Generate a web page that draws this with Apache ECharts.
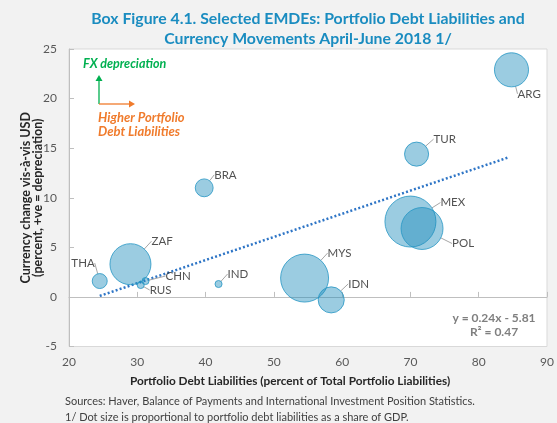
<!DOCTYPE html>
<html>
<head>
<meta charset="utf-8">
<script src="https://cdn.jsdelivr.net/npm/echarts@6/dist/echarts.min.js"></script>
<style>
  html, body { margin: 0; padding: 0; background: #f2f2f2; }
  #chart { width: 557px; height: 423px; }
</style>
</head>
<body>
<div id="chart"></div>
<script>
// data
const countries = ['ARG', 'TUR', 'BRA', 'MEX', 'POL', 'MYS', 'IDN', 'ZAF', 'THA', 'CHN', 'RUS', 'IND']
const debtShare = [84.8, 70.9, 39.8, 70.0, 71.7, 54.5, 58.4, 29.0, 24.5, 31.2, 30.5, 41.9]
const fxChange = [22.9, 14.4, 11.0, 7.6, 6.9, 1.9, -0.3, 3.3, 1.6, 1.6, 1.2, 1.3]
const debtGdp = [11.6, 5.8, 3.2, 26, 17.6, 23, 6.8, 16.8, 2.25, 0.5, 0.5, 0.5]
const trendX = [24.5, 84.5]
const trendY = [0.1, 14.1]
const xTicks = [20, 30, 40, 50, 60, 70, 80, 90]
const yTicks = [-5, 0, 5, 10, 15, 20, 25]

// label offsets from bubble centre (px)
const labelPos = {
  ARG: [6, 24, 'left'],
  TUR: [17, -15, 'left'],
  BRA: [10, -13, 'left'],
  MEX: [30, -19, 'left'],
  POL: [30, 15, 'left'],
  MYS: [23, -25, 'left'],
  IDN: [17, -16, 'left'],
  ZAF: [21, -23, 'left'],
  THA: [-5, -18, 'right'],
  CHN: [20, -5, 'left'],
  RUS: [9, 5, 'left'],
  IND: [9, -10, 'left']
}

const font = 'Lato, "Open Sans", sans-serif'
const chart = echarts.init(document.getElementById('chart'))

const option = {
  backgroundColor: '#f2f2f2',
  textStyle: { fontFamily: font },
  title: {
    text: 'Box Figure 4.1. Selected EMDEs: Portfolio Debt Liabilities and\nCurrency Movements April-June 2018 1/',
    left: 303,
    top: 4,
    textAlign: 'center',
    textStyle: { color: '#1a8cc0', fontSize: 15.8, fontWeight: 'bold', lineHeight: 20, fontFamily: font }
  },
  grid: {
    left: 69, right: 10, top: 49, bottom: 76.5,
    show: true, backgroundColor: '#ffffff', borderColor: '#d9d9d9', borderWidth: 1
  },
  xAxis: {
    type: 'value',
    min: xTicks[0], max: xTicks[xTicks.length - 1], interval: 10,
    axisLine: { onZero: true, lineStyle: { color: '#bfbfbf' } },
    axisTick: { show: true, inside: true, length: 5, lineStyle: { color: '#bfbfbf' } },
    axisLabel: { margin: 10, color: '#595959', fontSize: 12, fontFamily: font },
    splitLine: { show: false }
  },
  yAxis: {
    type: 'value',
    min: yTicks[0], max: yTicks[yTicks.length - 1], interval: 5,
    name: 'Currency change vis-à-vis USD\n(percent, +ve = depreciation)',
    nameLocation: 'middle',
    nameGap: 25,
    nameMoveOverlap: false,
    nameTextStyle: { color: '#262626', fontSize: 12.5, fontWeight: 'bold', lineHeight: 12, fontFamily: font },
    axisLine: { show: true, lineStyle: { color: '#bfbfbf' } },
    axisTick: { show: true, inside: true, length: 5, lineStyle: { color: '#bfbfbf' } },
    axisLabel: { margin: 12, color: '#595959', fontSize: 12, fontFamily: font },
    splitLine: { show: false }
  },
  series: [
    {
      type: 'line',
      data: trendX.map((x, i) => [x, trendY[i]]),
      symbol: 'none',
      silent: true,
      lineStyle: { color: '#2e75c6', width: 2.5, type: [2, 2.2] },
      z: 1
    },
    {
      type: 'scatter',
      data: countries.map((c, i) => ({ name: c, value: [debtShare[i], fxChange[i], debtGdp[i]] })),
      symbolSize: v => 10 * Math.sqrt(v[2]),
      itemStyle: { color: 'rgba(28,140,186,0.55)', borderColor: '#2596c4', borderWidth: 1 },
      label: {
        show: true,
        position: 'inside',
        formatter: p => p.name,
        color: '#262626',
        fontSize: 11.5,
        fontFamily: font,
        verticalAlign: 'middle'
      },
      labelLine: {
        show: true,
        lineStyle: { color: '#a6a6a6', width: 1 }
      },
      labelLayout: p => {
        const o = labelPos[countries[p.dataIndex]]
        return { dx: o[0], dy: o[1], align: o[2], hideOverlap: false, moveOverlap: false }
      },
      z: 2
    }
  ],
  graphic: [
    {
      type: 'text', x: 83, y: 57,
      style: { text: 'FX depreciation', fill: '#00b050', font: 'italic bold 12.5px ' + font }
    },
    {
      type: 'line', shape: { x1: 99, y1: 104, x2: 99, y2: 80 },
      style: { stroke: '#00b050', lineWidth: 1.3 }
    },
    {
      type: 'polygon', shape: { points: [[95.5, 81], [102.5, 81], [99, 75]] },
      style: { fill: '#00b050' }
    },
    {
      type: 'line', shape: { x1: 99, y1: 104, x2: 130, y2: 104 },
      style: { stroke: '#f07b2c', lineWidth: 1.3 }
    },
    {
      type: 'polygon', shape: { points: [[129, 100.5], [129, 107.5], [135, 104]] },
      style: { fill: '#f07b2c' }
    },
    {
      type: 'text', x: 98, y: 111,
      style: { text: 'Higher Portfolio\nDebt Liabilities', fill: '#f07b2c', font: 'italic bold 13px ' + font, lineHeight: 14 }
    },
    {
      type: 'text', x: 494, y: 311,
      style: { text: 'y = 0.24x - 5.81\nR² = 0.47', fill: '#7f7f7f', font: 'bold 12px ' + font, lineHeight: 14, align: 'center' }
    },
    {
      type: 'text', x: 290, y: 375,
      style: { text: 'Portfolio Debt Liabilities (percent of Total Portfolio Liabilities)', fill: '#262626', font: 'bold 11.8px ' + font, align: 'center' }
    },
    {
      type: 'text', x: 65, y: 393,
      style: { text: 'Sources: Haver, Balance of Payments and International Investment Position Statistics.\n1/ Dot size is proportional to portfolio debt liabilities as a share of GDP.', fill: '#404040', font: '11px ' + font, lineHeight: 16 }
    }
  ]
}

chart.setOption(option)
</script>
</body>
</html>
